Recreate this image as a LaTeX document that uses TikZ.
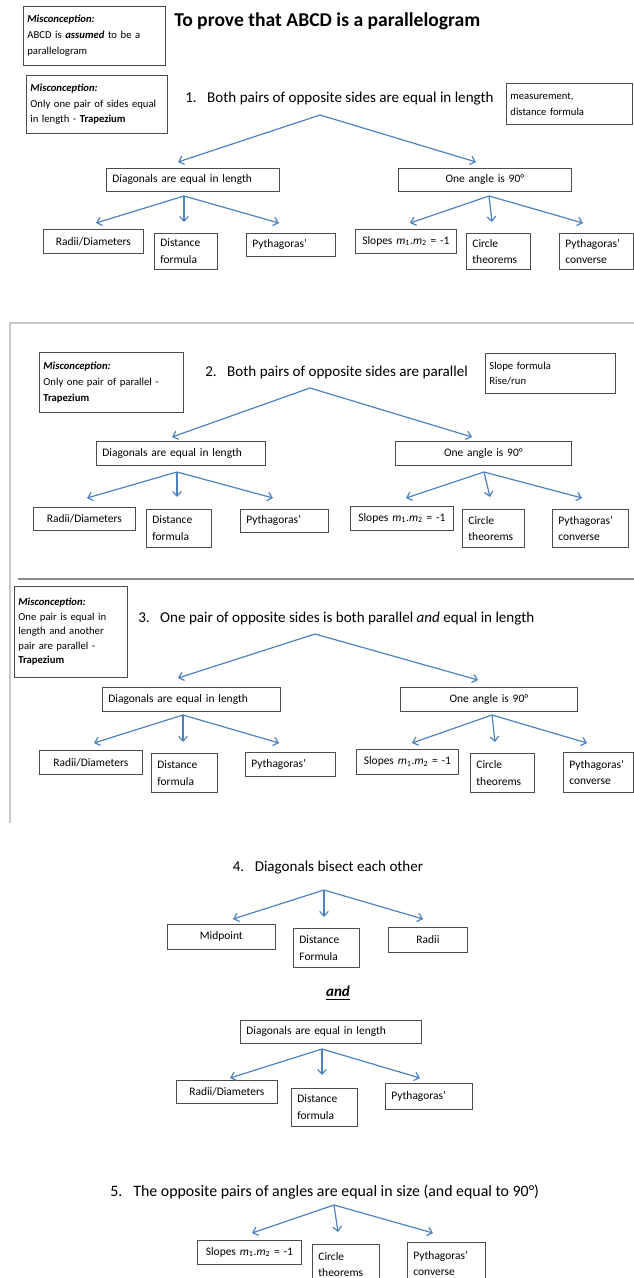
\documentclass[tikz,border=0pt]{standalone}
\usepackage{fontspec}
\setmainfont{Carlito}
\usetikzlibrary{arrows.meta}

\definecolor{linkblue}{HTML}{4F81BD}
\definecolor{framegray}{HTML}{C8C8C8}
\definecolor{sepgray}{HTML}{8C8C8C}
\newcommand{\px}{0.75pt}
\newcommand{\mis}{\textbf{\textit{Misconception:}}}
\newcommand{\slopes}{Slopes \textit{m}\textsubscript{1}.\textit{m}\textsubscript{2} = -1}
\newcommand{\num}[1]{#1.\hspace{0.7em}}

\tikzset{
  box/.style={draw=black!70, line width=0.6pt, anchor=north west, inner xsep=6*\px, inner ysep=0pt,
    font=\fontsize{8.6}{12.5}\selectfont},
  lbox/.style n args={4}{box, align=left, at={(#1,#2)}, minimum width={(#3-#1)*\px},
    minimum height={(#4-#2)*\px}, text width={(#3-#1-12)*\px}},
  cbox/.style n args={4}{lbox={#1}{#2}{#3}{#4}, align=center, inner xsep=2*\px, text width={(#3-#1-4)*\px}},
  note/.style n args={4}{lbox={#1}{#2}{#3}{#4}, inner xsep=4*\px, text width={(#3-#1-8)*\px},
    font=\fontsize{8}{11.8}\selectfont},
  crit/.style={anchor=west, inner sep=0pt, font=\fontsize{11.3}{13}\selectfont},
  arr/.style={draw=linkblue, line width=0.9pt, -{Straight Barb[length=3.5pt,width=6.5pt]}},
}

\begin{document}
\begin{tikzpicture}[x=\px, y=-\px]
    \useasboundingbox (0,0) rectangle (634,1278);

    % ---------- 1. opposite sides equal ----------
    \node[note={23}{6}{165}{65}] (mis1) {\mis\\ABCD is \textbf{\textit{assumed}} to be a\\parallelogram};
    \node[crit, font=\fontsize{14.7}{16}\selectfont\bfseries] (title) at (174,21) {To prove that ABCD is a parallelogram};
    \node[note={26}{75}{167}{133}] (mis2) {\mis\\Only one pair of sides equal\\in length - \textbf{Trapezium}};
    \node[crit] (crit1) at (185,99) {\num{1}Both pairs of opposite sides are equal in length};
    \node[note={506}{83}{632}{124}] (hint1) {measurement,\\distance formula};

    \node[lbox={106}{168}{279}{191}] (diag1) {Diagonals are equal in length};
    \node[cbox={398}{168}{571}{191}] (angle1) {One angle is 90°};
    \node[cbox={43}{229}{143}{253}] (radii1) {Radii/Diameters};
    \node[lbox={154}{233}{217}{269}] (dist1) {Distance\\formula};
    \node[lbox={246}{233}{335}{256}] (pyth1) {Pythagoras’};
    \node[cbox={355}{229}{456}{253}] (slope1) {\slopes};
    \node[lbox={466}{233}{530}{269}] (circ1) {Circle\\theorems};
    \node[lbox={559}{233}{633}{269}] (conv1) {Pythagoras’\\converse};

    \coordinate (top1) at (320,115);
    \coordinate (dtop1) at (184,196);
    \coordinate (atop1) at (489,196);
    \foreach \name/\x/\y in {t1a/178/162, t1b/476/162, t1c/96/223, t1d/184/222, t1e/279/223,
        t1f/410/223, t1g/492/222, t1h/583/223}
        \coordinate (\name) at (\x,\y);
    \foreach \t in {t1a, t1b} \draw[arr] (top1) -- (\t);
    \foreach \t in {t1c, t1d, t1e} \draw[arr] (dtop1) -- (\t);
    \foreach \t in {t1f, t1g, t1h} \draw[arr] (atop1) -- (\t);

    % ---------- frame round 2 and 3 ----------
    \draw[framegray, line width=0.8pt] (634,323) -- (10,323) -- (10,823);
    \draw[sepgray, line width=1pt] (18,579) -- (634,579);

    % ---------- 2. opposite sides parallel ----------
    \node[note={39}{352}{183}{412}] (mis3) {\mis\\Only one pair of parallel -\\\textbf{Trapezium}};
    \node[crit] (crit2) at (205,372) {\num{2}Both pairs of opposite sides are parallel};
    \node[note={485}{353}{615}{393}] (hint2) {Slope formula\\Rise/run};

    \node[lbox={96}{441}{265}{465}] (diag2) {Diagonals are equal in length};
    \node[cbox={395}{441}{571}{465}] (angle2) {One angle is 90°};
    \node[cbox={33}{507}{135}{530}] (radii2) {Radii/Diameters};
    \node[lbox={146}{509}{211}{547}] (dist2) {Distance\\formula};
    \node[lbox={240}{509}{328}{532}] (pyth2) {Pythagoras’};
    \node[cbox={350}{506}{453}{530}] (slope2) {\slopes};
    \node[lbox={462}{509}{524}{547}] (circ2) {Circle\\theorems};
    \node[lbox={552}{509}{628}{547}] (conv2) {Pythagoras’\\converse};

    \coordinate (top2) at (310,388);
    \coordinate (dtop2) at (177,472);
    \coordinate (atop2) at (484,472);
    \foreach \name/\x/\y in {t2a/172/437, t2b/472/437, t2c/87/498, t2d/177/497, t2e/273/498,
        t2f/406/498, t2g/490/497, t2h/582/498}
        \coordinate (\name) at (\x,\y);
    \foreach \t in {t2a, t2b} \draw[arr] (top2) -- (\t);
    \foreach \t in {t2c, t2d, t2e} \draw[arr] (dtop2) -- (\t);
    \foreach \t in {t2f, t2g, t2h} \draw[arr] (atop2) -- (\t);

    % ---------- 3. one pair parallel and equal ----------
    \node[note={14}{586}{127}{677}, font=\fontsize{8}{10.9}\selectfont] (mis4) {\mis\\One pair is equal in\\length and another\\pair are parallel -\\\textbf{Trapezium}};
    \node[crit] (crit3) at (138,619) {\num{3}One pair of opposite sides is both parallel \textit{and} equal in length};

    \node[lbox={102}{687}{280}{711}] (diag3) {Diagonals are equal in length};
    \node[cbox={400}{687}{577}{711}] (angle3) {One angle is 90°};
    \node[cbox={39}{750}{142}{774}] (radii3) {Radii/Diameters};
    \node[lbox={151}{753}{217}{792}] (dist3) {Distance\\formula};
    \node[lbox={245}{752}{335}{776}] (pyth3) {Pythagoras’};
    \node[cbox={356}{749}{458}{774}] (slope3) {\slopes};
    \node[lbox={470}{753}{534}{792}] (circ3) {Circle\\theorems};
    \node[lbox={563}{752}{633}{792}] (conv3) {Pythagoras’\\converse};

    \coordinate (top3) at (315,634);
    \coordinate (dtop3) at (183,715);
    \coordinate (atop3) at (492,715);
    \foreach \name/\x/\y in {t3a/178/678, t3b/478/680, t3c/94/743, t3d/183/742, t3e/279/743,
        t3f/412/743, t3g/495/742, t3h/587/743}
        \coordinate (\name) at (\x,\y);
    \foreach \t in {t3a, t3b} \draw[arr] (top3) -- (\t);
    \foreach \t in {t3c, t3d, t3e} \draw[arr] (dtop3) -- (\t);
    \foreach \t in {t3f, t3g, t3h} \draw[arr] (atop3) -- (\t);

    % ---------- 4. diagonals bisect ----------
    \node[crit, anchor=center] (crit4) at (328,868) {\num{4}Diagonals bisect each other};
    \node[cbox={167}{924}{275}{949}] (mid4) {Midpoint};
    \node[lbox={293}{928}{359}{967}] (dist4) {Distance\\Formula};
    \node[cbox={388}{927}{467}{952}] (radii4) {Radii};
    \node[crit, anchor=center] (and4) at (338,993) {\underline{\textbf{\textit{and}}}};
    \node[lbox={240}{1020}{421}{1043}] (diag4) {Diagonals are equal in length};
    \node[cbox={176}{1080}{277}{1103}] (radii4b) {Radii/Diameters};
    \node[lbox={291}{1088}{357}{1126}] (dist4b) {Distance\\formula};
    \node[lbox={385}{1083}{472}{1109}] (pyth4) {Pythagoras’};

    \coordinate (top4) at (324,890);
    \coordinate (dtop4) at (322,1049);
    \foreach \name/\x/\y in {t4a/233/919, t4b/324/917, t4c/423/919, t4d/230/1078, t4e/322/1075, t4f/420/1078}
        \coordinate (\name) at (\x,\y);
    \foreach \t in {t4a, t4b, t4c} \draw[arr] (top4) -- (\t);
    \foreach \t in {t4d, t4e, t4f} \draw[arr] (dtop4) -- (\t);

    % ---------- 5. opposite angles ----------
    \node[crit, font=\fontsize{11.9}{13}\selectfont] (crit5) at (110,1192) {\num{5}The opposite pairs of angles are equal in size (and equal to 90°)};
    \node[cbox={197}{1240}{301}{1264}] (slope5) {\slopes};
    \node[lbox={312}{1244}{379}{1284}] (circ5) {Circle\\theorems};
    \node[lbox={407}{1242}{485}{1284}] (conv5) {Pythagoras’\\converse};

    \coordinate (top5) at (334,1205);
    \foreach \name/\x/\y in {t5a/252/1233, t5b/338/1232, t5c/433/1233}
        \coordinate (\name) at (\x,\y);
    \foreach \t in {t5a, t5b, t5c} \draw[arr] (top5) -- (\t);
\end{tikzpicture}
\end{document}
